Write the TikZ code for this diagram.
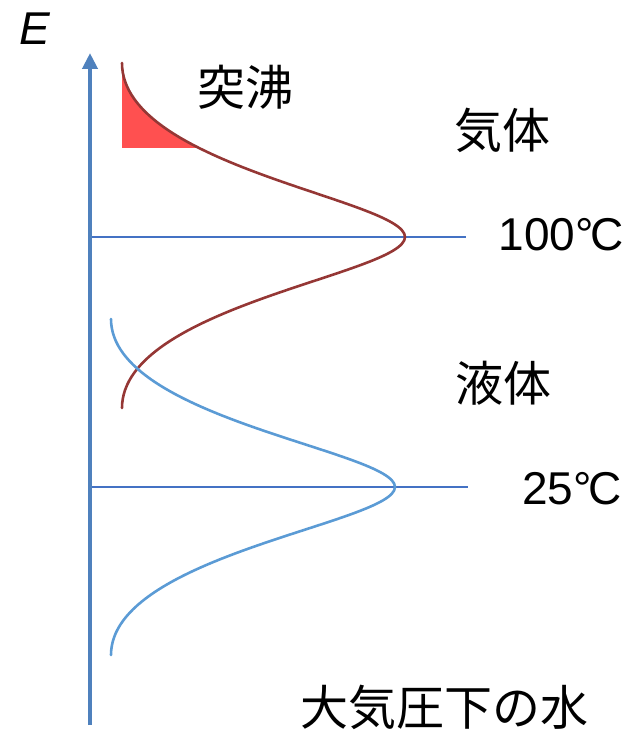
\documentclass[tikz,border=0pt]{standalone}
\usepackage{fontspec}
\setmainfont{Liberation Sans}
\newfontfamily\jpfont{Noto Sans CJK JP}
\usepackage{tikz}
\usetikzlibrary{arrows.meta}

\definecolor{axisblue}{RGB}{79,129,189}
\definecolor{levelblue}{RGB}{68,114,196}
\definecolor{liquidblue}{RGB}{91,155,213}
\definecolor{gasred}{RGB}{149,55,53}
\definecolor{bumpred}{RGB}{255,80,80}

\newcommand{\degC}{°\kern-0.07emC}

\begin{document}
\begin{tikzpicture}[
    x=0.5pt, y=-0.5pt,
    axisline/.style={draw=axisblue, line width=2pt, -{Triangle[width=7.5pt, length=8pt]}},
    levelline/.style={draw=levelblue, line width=1.2pt},
    gascurve/.style={draw=gasred, line width=1.3pt, line cap=round},
    liquidcurve/.style={draw=liquidblue, line width=1.3pt, line cap=round},
    lbl/.style={inner sep=0pt, font=\fontsize{23}{27}\selectfont},
    jplbl/.style={inner sep=0pt, font=\jpfont\fontsize{24}{28}\selectfont}
]
\useasboundingbox (0,0) rectangle (627,733);

% axis and levels
\coordinate (origin) at (90,725);
\coordinate (top) at (90,53);
\coordinate (hotL) at (90,237);
\coordinate (hotR) at (466,237);
\coordinate (warmL) at (90,487);
\coordinate (warmR) at (468,487);

% curve end points
\coordinate (gasTop) at (122,63);
\coordinate (gasPeak) at (405,237);
\coordinate (gasEnd) at (122,408);
\coordinate (liqTop) at (111,319);
\coordinate (liqPeak) at (395,487);
\coordinate (liqEnd) at (111,655);

% bumping part
\begin{scope}
\clip (100,40) rectangle (300,147);
\fill[bumpred] (gasTop) .. controls (122,167) and (405,200) .. (gasPeak) -- (122,237) -- cycle;
\end{scope}

\draw[levelline] (hotL) -- (hotR);
\draw[levelline] (warmL) -- (warmR);

\draw[gascurve] (gasTop) .. controls (122,167) and (405,200) .. (gasPeak)
    .. controls (405,274) and (122,306) .. (gasEnd);
\draw[liquidcurve] (liqTop) .. controls (111,419) and (395,451) .. (liqPeak)
    .. controls (395,523) and (111,555) .. (liqEnd);

\draw[axisline] (origin) -- (top);

% labels
\node[lbl, font=\fontsize{23}{27}\selectfont\itshape] (elabel) at (35,29) {E};
\node[lbl] (hotlabel) at (561,235) {100\degC};
\node[lbl] (warmlabel) at (572,489) {25\degC};
\node[jplbl] (bump) at (245,87) {突沸};
\node[jplbl] (gas) at (502,130) {気体};
\node[jplbl] (liquid) at (503,383) {液体};
\node[jplbl] (title) at (444,707) {大気圧下の水};
\end{tikzpicture}
\end{document}
